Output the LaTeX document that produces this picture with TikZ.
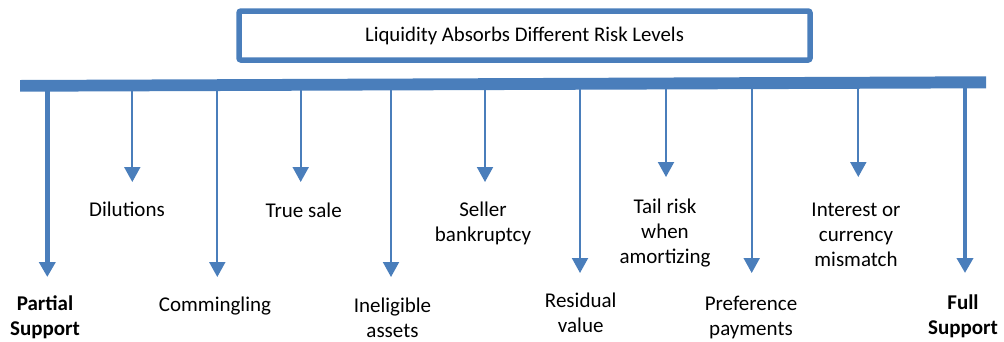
\documentclass[tikz,border=0pt]{standalone}
\usepackage{fontspec}
\setmainfont{Carlito}
\usetikzlibrary{arrows.meta}
\definecolor{barblue}{RGB}{74,126,187}
\tikzset{
  x=1pt, y=-1pt,
  lbl/.style={font=\fontsize{21}{25}\selectfont, align=center, inner sep=0pt, text=black},
  blbl/.style={lbl, font=\fontsize{21}{25}\selectfont\bfseries},
  thinarrow/.style={draw=barblue, line width=2pt, -{Triangle[width=16pt,length=15pt]}},
  thickarrow/.style={draw=barblue, line width=4.5pt, -{Triangle[width=16pt,length=15pt]}},
  titlebox/.style={draw=barblue, line width=5.5pt, rounded corners=2pt, minimum width=571pt, minimum height=49pt, inner sep=0pt, font=\fontsize{20.8}{24}\selectfont}
}
\begin{document}
\begin{tikzpicture}
\useasboundingbox (0,0) rectangle (1004,341);
\node[titlebox] (title) at (524.5,35.5) {Liquidity Absorbs Different Risk Levels};
% bar
\fill[barblue] (20,80) -- (986,76.3) -- (986,88.3) -- (20,91.7) -- cycle;
\path (20,85.8) coordinate (barL) -- (986,82.3) coordinate (barR);
% coordinates on bar and tips
\foreach \n/\x/\t in {a/47.3/277, b/132.3/182, c/217.3/277, d/300.7/182, e/391/277, f/485/182, g/580/273, h/666/177, i/751.7/273, j/858.3/177, k/965/273}{
  \coordinate (s\n) at (\x,{85.8-3.6*(\x-20)/966});
  \coordinate (t\n) at (\x,\t);
}
\draw[thickarrow] (sa) -- (ta);
\draw[thinarrow] (sb) -- (tb);
\draw[thinarrow] (sc) -- (tc);
\draw[thinarrow] (sd) -- (td);
\draw[thinarrow] (se) -- (te);
\draw[thinarrow] (sf) -- (tf);
\draw[thinarrow] (sg) -- (tg);
\draw[thinarrow] (sh) -- (th);
\draw[thinarrow] (si) -- (ti);
\draw[thinarrow] (sj) -- (tj);
\draw[thickarrow] (sk) -- (tk);
% labels
\node[blbl] (partial) at (45,317.5) {Partial\\Support};
\node[lbl] (dil) at (127,209.5) {Dilutions};
\node[lbl] (com) at (215,306.5) {Commingling};
\node[lbl] (ts) at (303.7,210.5) {True sale};
\node[lbl] (inel) at (392.5,317.5) {Ineligible\\assets};
\node[lbl] (sel) at (483,223.5) {Seller\\bankruptcy};
\node[lbl] (res) at (580.7,312.5) {Residual\\value};
\node[lbl] (tail) at (665,233) {Tail risk\\when\\amortizing};
\node[lbl] (pref) at (751,317.5) {Preference\\payments};
\node[lbl] (int) at (856,235) {Interest or\\currency\\mismatch};
\node[blbl] (full) at (963,316.5) {Full\\Support};
\end{tikzpicture}
\end{document}
